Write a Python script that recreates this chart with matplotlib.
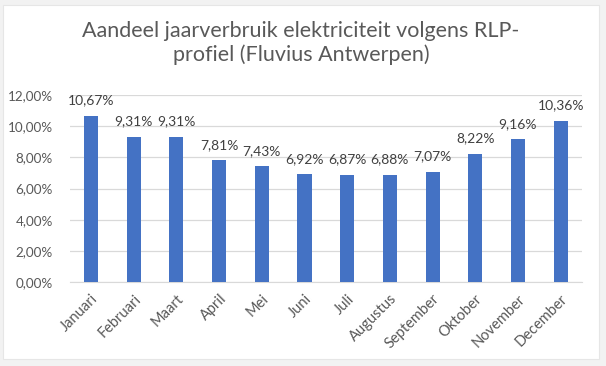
import matplotlib
matplotlib.use('Agg')
import matplotlib.pyplot as plt
from matplotlib.patches import Rectangle
from matplotlib.ticker import FuncFormatter

maanden = ['Januari', 'Februari', 'Maart', 'April', 'Mei', 'Juni', 'Juli',
           'Augustus', 'September', 'Oktober', 'November', 'December']
aandeel = [10.67, 9.31, 9.31, 7.81, 7.43, 6.92, 6.87, 6.88, 7.07, 8.22, 9.16, 10.36]
y_ticks = [0, 2, 4, 6, 8, 10, 12]

plt.rcParams['font.family'] = ['Lato', 'DejaVu Sans']

fig = plt.figure(figsize=(6.06, 3.66), dpi=100, facecolor='#f2f2f2')
# white chart area with the light grey frame round it
fig.patches.append(Rectangle((3 / 606, 1 - 359 / 366), 596 / 606, 354 / 366,
                             transform=fig.transFigure, facecolor='white',
                             edgecolor='#e6e6e6', linewidth=0.8, zorder=-5))

ax = fig.add_axes([69.7 / 606, 1 - 282 / 366, 512.3 / 606, 187 / 366])
ax.set_facecolor('white')

x = range(len(maanden))
bars = ax.bar(x, aandeel, width=0.33, color='#4472c4', zorder=3)

for xi, v in zip(x, aandeel):
    ax.text(xi, v + 0.6, f'{v:.2f}%'.replace('.', ','), ha='center', va='bottom',
            fontsize=10, color='#404040')

ax.set_xlim(-0.5, len(maanden) - 0.5)
ax.set_ylim(0, 12)
ax.set_yticks(y_ticks)
ax.yaxis.set_major_formatter(FuncFormatter(lambda v, p: f'{v:.2f}%'.replace('.', ',')))
ax.grid(axis='y', color='#d9d9d9', linewidth=0.9, zorder=0)
ax.set_xticks(list(x))
ax.set_xticklabels(maanden, rotation=45, ha='right', rotation_mode='anchor')
ax.tick_params(axis='y', length=0, labelsize=9.7, labelcolor='#595959', pad=12)
ax.tick_params(axis='x', length=0, labelsize=10.5, labelcolor='#595959', pad=7)
for s in ['top', 'right', 'left']:
    ax.spines[s].set_visible(False)
ax.spines['bottom'].set_color('#d9d9d9')

fig.text(0.497, 1 - 31 / 366, 'Aandeel jaarverbruik elektriciteit volgens RLP-',
         ha='center', va='center', fontsize=15.5, color='#595959')
fig.text(0.497, 1 - 55 / 366, 'profiel (Fluvius Antwerpen)',
         ha='center', va='center', fontsize=15.5, color='#595959')

plt.savefig('out.png', dpi=100, facecolor=fig.get_facecolor())
plt.close()
